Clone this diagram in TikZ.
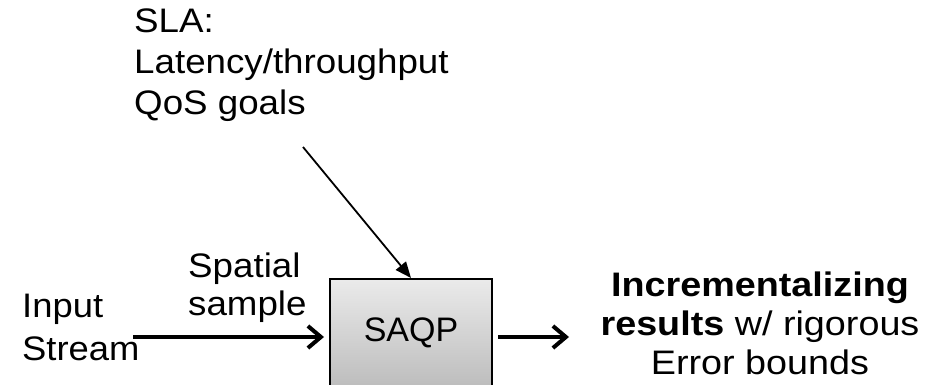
\documentclass[tikz,border=0pt]{standalone}
\usepackage{fontspec}
\setmainfont{Liberation Sans}
\usetikzlibrary{arrows.meta}

\tikzset{
  label text/.style={inner sep=0pt, transform shape},
  procbox/.style={draw=black, line width=2pt, top color=black!8, bottom color=black!26,
    minimum width=162pt, minimum height=108pt, inner sep=0pt,
    font=\fontsize{34}{40}\selectfont},
  flow/.style={line width=4pt, -{Straight Barb[length=13pt, width=22pt]}},
  goal/.style={line width=1.8pt, -{Triangle[length=16pt, width=13pt]}}
}

\begin{document}
\begin{tikzpicture}[x=1pt, y=-1pt]
  \useasboundingbox (0,0) rectangle (934,385);
  \clip (0,0) rectangle (934,385);

  % text blocks (anchored at the baseline of their last line)
  \node[label text, xscale=1.08, anchor=base west, align=left,
        font=\fontsize{34}{41}\selectfont] (sla) at (134,115)
        {SLA:\\Latency/throughput\\QoS goals};
  \node[label text, xscale=1.07, anchor=base west, align=left,
        font=\fontsize{34}{43}\selectfont] (input) at (22,360)
        {Input\\Stream};
  \node[label text, xscale=1.08, anchor=base west, align=left,
        font=\fontsize{34}{38}\selectfont] (spatial) at (188,315)
        {Spatial\\sample};
  \node[label text, xscale=1.11, anchor=base, align=center,
        font=\fontsize{34}{39}\selectfont] (result) at (760,374)
        {\textbf{Incrementalizing}\\\textbf{results} w/ rigorous\\Error bounds};

  % processing block
  \node[procbox] (saqp) at (411,333) {SAQP};

  % connector end points
  \coordinate (instart) at (133,337);
  \coordinate (outend) at (569,337);
  \coordinate (slastart) at (303,147);

  % connectors
  \draw[flow, shorten >=5pt] (instart) -- (saqp.west |- instart);
  \draw[flow, shorten <=5pt] (saqp.east |- outend) -- (outend);
  \draw[goal] (slastart) -- (saqp.north);
\end{tikzpicture}
\end{document}
